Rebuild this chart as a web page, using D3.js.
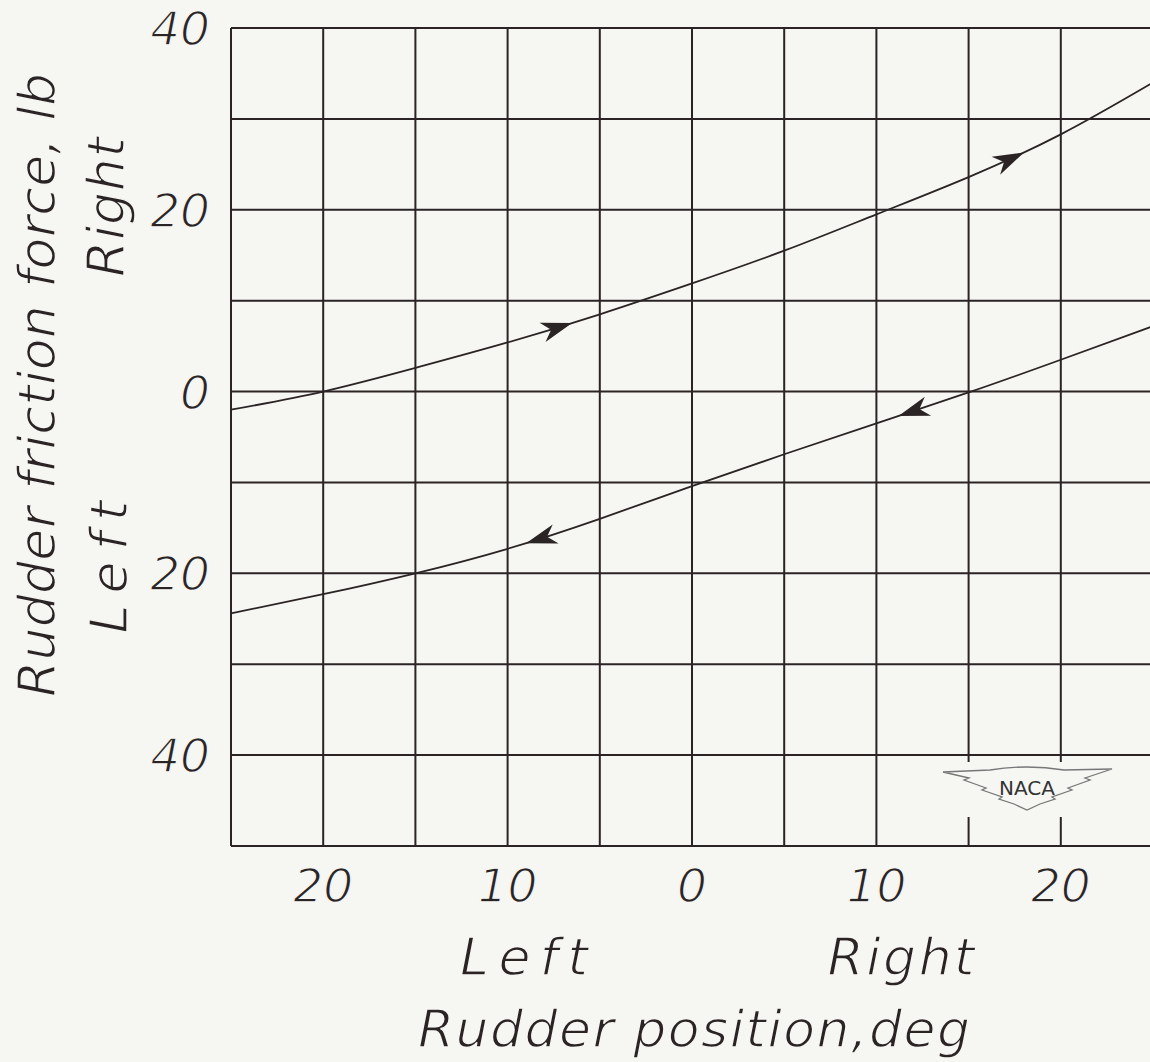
<!DOCTYPE html>
<html>
<head>
<meta charset="utf-8">
<script src="https://cdn.jsdelivr.net/npm/d3@7"></script>
<style>
body { margin: 0; background: #f6f6f3; }
.lab { font-family: "DejaVu Sans"; font-style: italic; fill: #2a2424; stroke: #f6f6f3; stroke-width: 1.4px; paint-order: fill; }
</style>
</head>
<body>
<div id="chart"></div>
<script>
// rudder position, deg (negative = left)
var xTicks = [-20, -10, 0, 10, 20];
var xTickLabels = ["20", "10", "0", "10", "20"];
// friction force, lb (negative = left)
var yTicks = [40, 20, 0, -20, -40];
var yTickLabels = ["40", "20", "0", "20", "40"];

var rudderPos = [-25, -20, -15, -10, -5, 0, 5, 10, 15, 20, 25];
var forceMovingRight = [-2, 0, 2.6, 5.4, 8.5, 11.9, 15.5, 19.5, 23.6, 28.3, 34];
var forceMovingLeft = [-24.4, -22.3, -20, -17.3, -14.0, -10.4, -6.9, -3.5, -0.1, 3.5, 7.2];
var arrowsRight = [-6.5, 18];
var arrowsLeft = [-9, 11.2];

var W = 1150, H = 1062;
var ink = "#2a2424";
var paper = "#f6f6f3";

var svg = d3.select("#chart").append("svg")
      .attr("width", W)
      .attr("height", H);

svg.append("rect").attr("width", W).attr("height", H).attr("fill", paper);

var x = d3.scaleLinear().domain([-25, 25]).range([231, 1153]);
var y = d3.scaleLinear().domain([-50, 40]).range([846, 28]);

// grid
var grid = svg.append("g").attr("stroke", ink).attr("stroke-width", 2);
grid.selectAll("line.v").data(d3.range(-25, 26, 5)).enter().append("line")
      .attr("x1", d => x(d)).attr("x2", d => x(d))
      .attr("y1", y(40)).attr("y2", y(-50));
grid.selectAll("line.h").data(d3.range(-50, 41, 10)).enter().append("line")
      .attr("x1", x(-25)).attr("x2", x(25))
      .attr("y1", d => y(d)).attr("y2", d => y(d));

// NACA logo (covers grid lines)
var logo = svg.append("g");
logo.append("rect").attr("x", 940).attr("y", 762).attr("width", 175).attr("height", 55).attr("fill", paper);
logo.append("path")
      .attr("d", "M943,772 L990,770 Q1027,764 1064,770 L1112,769 L1085,778 L1090,780 L1068,788 L1072,790 L1052,797 L1055,799 L1040,804 L1027,810 L1014,804 L999,799 L1002,797 L982,790 L986,788 L964,780 L969,778 Z")
      .attr("fill", paper).attr("stroke", "#777").attr("stroke-width", 1.3);
logo.append("text").attr("x", 1027).attr("y", 795).attr("text-anchor", "middle")
      .attr("font-family", "DejaVu Sans").attr("font-size", 20).attr("fill", "#333")
      .text("NACA");

// curves
var line = d3.line().x(d => x(d[0])).y(d => y(d[1])).curve(d3.curveNatural);

function drawCurve(vals, arrows, dir) {
      var pts = rudderPos.map((p, i) => [p, vals[i]]);
      var path = svg.append("path").datum(pts)
            .attr("d", line)
            .attr("fill", "none").attr("stroke", ink).attr("stroke-width", 1.8);
      var node = path.node();
      var L = node.getTotalLength();
      arrows.forEach(function (ax) {
            var px = x(ax), lo = 0, hi = L;
            for (var k = 0; k < 40; k++) {
                  var mid = (lo + hi) / 2;
                  if (node.getPointAtLength(mid).x < px) lo = mid; else hi = mid;
            }
            var p = node.getPointAtLength(lo);
            var p2 = node.getPointAtLength(Math.min(L, lo + 5));
            var p1 = node.getPointAtLength(Math.max(0, lo - 5));
            var ang = Math.atan2(p2.y - p1.y, p2.x - p1.x) * 180 / Math.PI;
            if (dir < 0) ang += 180;
            svg.append("path")
                  .attr("d", "M0,0 L-31,-10 L-22,0 L-31,10 Z")
                  .attr("fill", ink)
                  .attr("transform", "translate(" + p.x + "," + p.y + ") rotate(" + ang + ")");
      });
}
drawCurve(forceMovingRight, arrowsRight, 1);
drawCurve(forceMovingLeft, arrowsLeft, -1);

// tick labels
svg.selectAll("text.yt").data(yTicks).enter().append("text")
      .attr("class", "lab")
      .attr("x", 210).attr("y", d => y(d) + 17)
      .attr("text-anchor", "end")
      .attr("font-size", 47)
      .text((d, i) => yTickLabels[i]);

svg.selectAll("text.xt").data(xTicks).enter().append("text")
      .attr("class", "lab")
      .attr("x", d => x(d)).attr("y", 902)
      .attr("text-anchor", "middle")
      .attr("font-size", 47)
      .text((d, i) => xTickLabels[i]);

// axis titles
svg.append("text").attr("class", "lab")
      .attr("x", 524).attr("y", 975).attr("text-anchor", "middle")
      .attr("font-size", 52)
      .attr("textLength", 128).attr("lengthAdjust", "spacing")
      .text("Left");
svg.append("text").attr("class", "lab")
      .attr("x", 901).attr("y", 975).attr("text-anchor", "middle")
      .attr("font-size", 52)
      .attr("textLength", 147).attr("lengthAdjust", "spacing")
      .text("Right");
svg.append("text").attr("class", "lab")
      .attr("x", 694).attr("y", 1047).attr("text-anchor", "middle")
      .attr("font-size", 52)
      .attr("textLength", 552).attr("lengthAdjust", "spacing")
      .text("Rudder position,deg");

svg.append("text").attr("class", "lab")
      .attr("transform", "translate(55,385) rotate(-90)")
      .attr("text-anchor", "middle")
      .attr("font-size", 52)
      .attr("textLength", 624).attr("lengthAdjust", "spacing")
      .text("Rudder friction force, lb");
svg.append("text").attr("class", "lab")
      .attr("transform", "translate(124,207) rotate(-90)")
      .attr("text-anchor", "middle")
      .attr("font-size", 52)
      .attr("textLength", 140).attr("lengthAdjust", "spacing")
      .text("Right");
svg.append("text").attr("class", "lab")
      .attr("transform", "translate(127,567) rotate(-90)")
      .attr("text-anchor", "middle")
      .attr("font-size", 52)
      .attr("textLength", 133).attr("lengthAdjust", "spacing")
      .text("Left");
</script>
</body>
</html>
